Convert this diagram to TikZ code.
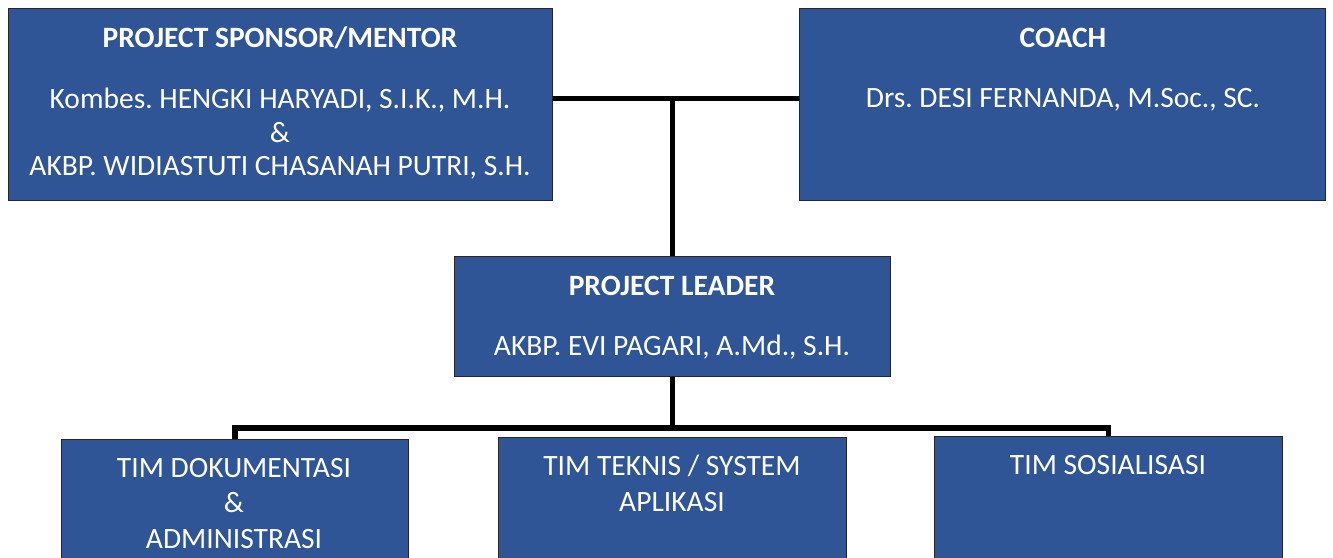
\documentclass[tikz,border=0pt]{standalone}
\usepackage{fontspec}
\setmainfont{Carlito}
\frenchspacing
\definecolor{boxblue}{HTML}{2F5597}
\begin{document}
\begin{tikzpicture}[x=1pt,y=-1pt,
  box/.style={draw=black!85, line width=1.3pt, fill=boxblue, inner sep=0pt, anchor=north west},
  txt/.style={text=white, font=\fontsize{29.5}{34}\selectfont, inner sep=0pt, anchor=center},
  btxt/.style={txt, font=\fontsize{29.5}{34}\selectfont\bfseries},
  conn/.style={line width=5.5pt, line join=miter}]
\useasboundingbox (0,0) rectangle (1333,557);
\clip (0,0) rectangle (1333,557);
% boxes
\node[box, minimum width=544pt, minimum height=192pt] (sp) at (8,8) {};
\node[box, minimum width=526pt, minimum height=192pt] (co) at (799,8) {};
\node[box, minimum width=436pt, minimum height=120pt] (pl) at (454,256) {};
\node[box, minimum width=347pt, minimum height=150pt] (t1) at (61,439) {};
\node[box, minimum width=348pt, minimum height=150pt] (t2) at (498,437) {};
\node[box, minimum width=348pt, minimum height=150pt] (t3) at (934,436) {};
% texts
\node[btxt] (spT) at (280,38) {PROJECT SPONSOR/MENTOR};
\node[txt] (spA) at (280,100) {Kombes. HENGKI HARYADI, S.I.K., M.H.};
\node[txt] (spB) at (280,133) {\&};
\node[txt] (spC) at (280,168) {AKBP. WIDIASTUTI CHASANAH PUTRI, S.H.};
\node[btxt] (coT) at (1063,38) {COACH};
\node[txt] (coA) at (1063,100) {Drs. DESI FERNANDA, M.Soc., SC.};
\node[btxt] (plT) at (672,286) {PROJECT LEADER};
\node[txt] (plA) at (672,347) {AKBP. EVI PAGARI, A.Md., S.H.};
\node[txt] (t1A) at (234,468) {TIM DOKUMENTASI};
\node[txt] (t1B) at (234,503) {\&};
\node[txt] (t1C) at (234,539) {ADMINISTRASI};
\node[txt] (t2A) at (672,466) {TIM TEKNIS / SYSTEM};
\node[txt] (t2B) at (672,502) {APLIKASI};
\node[txt] (t3A) at (1108,465) {TIM SOSIALISASI};
% connectors
\coordinate (top) at ([yshift=6pt]sp.east);
\coordinate (bus) at (0,428);
\draw[conn] ([yshift=6pt]sp.east) -- ([yshift=6pt]co.west);
\draw[conn] (pl.north) -- (pl.north |- top);
\draw[conn] (pl.south) -- (pl.south |- bus);
\draw[conn] (t1.north) -- (t1.north |- bus) -- (t3.north |- bus) -- (t3.north);
\end{tikzpicture}
\end{document}
